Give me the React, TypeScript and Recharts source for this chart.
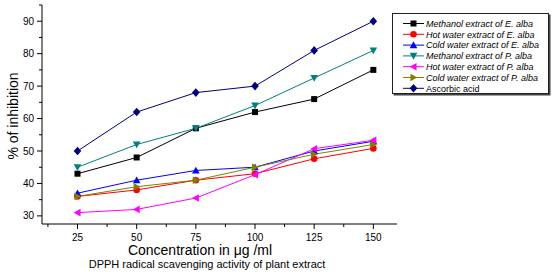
import { LineChart, Line, XAxis, YAxis, Legend } from 'recharts';

const concentrations = [25, 50, 75, 100, 125, 150];
const methanolEAlba = [43, 48, 57, 62, 66, 75];
const hotWaterEAlba = [36, 38, 41, 43, 47.6, 50.8];
const coldWaterEAlba = [37, 41, 44, 45, 50, 53];
const methanolPAlba = [45, 52, 57, 64, 72.5, 81];
const hotWaterPAlba = [31, 32, 35.5, 42.7, 50.7, 53.3];
const coldWaterPAlba = [36, 39, 41, 45, 49, 52];
const ascorbicAcid = [50, 62, 68, 70, 81, 90];

const xTicks = [12.5, 25, 37.5, 50, 62.5, 75, 87.5, 100, 112.5, 125, 137.5, 150];
const yTicks = [30, 35, 40, 45, 50, 55, 60, 65, 70, 75, 80, 85, 90, 95];

const FONT = "Arial, 'Liberation Sans', sans-serif";

type Shape = 'square' | 'circle' | 'up' | 'down' | 'left' | 'right' | 'diamond';

const series: { key: string; name: string; color: string; shape: Shape; italic: boolean; values: number[] }[] = [
  { key: 'methE', name: 'Methanol extract of E. alba', color: '#000000', shape: 'square', italic: true, values: methanolEAlba },
  { key: 'hotE', name: 'Hot water extract of E. alba', color: '#ff0000', shape: 'circle', italic: true, values: hotWaterEAlba },
  { key: 'coldE', name: 'Cold water extract of E. alba', color: '#0000ff', shape: 'up', italic: true, values: coldWaterEAlba },
  { key: 'methP', name: 'Methanol extract of P. alba', color: '#008080', shape: 'down', italic: true, values: methanolPAlba },
  { key: 'hotP', name: 'Hot water extract of P. alba', color: '#ff00ff', shape: 'left', italic: true, values: hotWaterPAlba },
  { key: 'coldP', name: 'Cold water extract of P. alba', color: '#808000', shape: 'right', italic: true, values: coldWaterPAlba },
  { key: 'asc', name: 'Ascorbic acid', color: '#000080', shape: 'diamond', italic: false, values: ascorbicAcid },
];

const data = concentrations.map((c, i) => {
  const row: Record<string, number> = { conc: c };
  series.forEach((s) => (row[s.key] = s.values[i]));
  return row;
});

const Marker = ({ cx, cy, shape, color }: { cx: number; cy: number; shape: Shape; color: string }) => {
  if (cx == null || cy == null) return null;
  const r = 3.8;
  switch (shape) {
    case 'square':
      return <rect x={cx - 3} y={cy - 3} width={6} height={6} fill={color} />;
    case 'circle':
      return <circle cx={cx} cy={cy} r={3.3} fill={color} />;
    case 'up':
      return <polygon points={`${cx},${cy - r} ${cx + r},${cy + r * 0.8} ${cx - r},${cy + r * 0.8}`} fill={color} />;
    case 'down':
      return <polygon points={`${cx},${cy + r} ${cx + r},${cy - r * 0.8} ${cx - r},${cy - r * 0.8}`} fill={color} />;
    case 'left':
      return <polygon points={`${cx - r},${cy} ${cx + r * 0.8},${cy - r} ${cx + r * 0.8},${cy + r}`} fill={color} />;
    case 'right':
      return <polygon points={`${cx + r},${cy} ${cx - r * 0.8},${cy - r} ${cx - r * 0.8},${cy + r}`} fill={color} />;
    default:
      return <polygon points={`${cx},${cy - 4.3} ${cx + 3.8},${cy} ${cx},${cy + 4.3} ${cx - 3.8},${cy}`} fill={color} />;
  }
};

const XTick = (props: any) => {
  const { x, y, payload } = props;
  const major = payload.value % 25 === 0;
  return (
    <g>
      <line x1={x} x2={x} y1={y} y2={y + (major ? 5 : 3)} stroke="#000" strokeWidth={1} />
      {major && (
        <text x={x} y={y + 17} textAnchor="middle" fontSize={10} fontFamily={FONT} fill="#000">
          {payload.value}
        </text>
      )}
    </g>
  );
};

const YTick = (props: any) => {
  const { x, y, payload } = props;
  const major = payload.value % 10 === 0;
  return (
    <g>
      <line x1={x} x2={x - (major ? 5 : 3)} y1={y} y2={y} stroke="#000" strokeWidth={1} />
      {major && (
        <text x={x - 8} y={y + 3.6} textAnchor="end" fontSize={10} fontFamily={FONT} fill="#000">
          {payload.value}
        </text>
      )}
    </g>
  );
};

const LegendBox = () => (
  <div style={{ border: '1px solid #222', boxShadow: '1.5px 1.5px 0 #444', background: '#fff', width: 155, height: 79 }}>
    <svg width={155} height={79}>
      {series.map((s, i) => {
        const cy = 9.5 + i * 10.8;
        return (
          <g key={s.key}>
            <line x1={10} x2={31} y1={cy} y2={cy} stroke={s.color} strokeWidth={1} />
            <Marker cx={20.5} cy={cy} shape={s.shape} color={s.color} />
            <text x={33} y={cy + 3.3} fontSize={9} fontFamily={FONT} fontStyle={s.italic ? 'italic' : 'normal'} fill="#000">
              {s.name}
            </text>
          </g>
        );
      })}
    </svg>
  </div>
);

export default function App() {
  return (
    <div style={{ position: 'absolute', left: 0, top: 0, width: 556, height: 272, background: '#fff', fontFamily: FONT }}>
      <LineChart width={556} height={272} data={data} margin={{ top: 5, right: 159, left: 0, bottom: 18 }}>
        <XAxis
          dataKey="conc"
          type="number"
          domain={[10, 160]}
          ticks={xTicks}
          interval={0}
          height={30}
          tickSize={0}
          tickMargin={0}
          tickLine={false}
          tick={XTick}
          axisLine={{ stroke: '#000' }}
          allowDataOverflow
        />
        <YAxis
          type="number"
          domain={[27.5, 95]}
          ticks={yTicks}
          interval={0}
          width={42}
          tickSize={0}
          tickMargin={0}
          tickLine={false}
          tick={YTick}
          axisLine={{ stroke: '#000' }}
          allowDataOverflow
        />
        <Legend
          layout="vertical"
          align="center"
          verticalAlign="middle"
          content={() => <LegendBox />}
          wrapperStyle={{ left: 392, top: 13, width: 157, height: 81 }}
        />
        {series.map((s) => (
          <Line
            key={s.key}
            dataKey={s.key}
            name={s.name}
            stroke={s.color}
            strokeWidth={1}
            isAnimationActive={false}
            dot={(p: any) => <Marker key={`${s.key}-${p.index}`} cx={p.cx} cy={p.cy} shape={s.shape} color={s.color} />}
            activeDot={false}
          />
        ))}
      </LineChart>
      <div
        style={{
          position: 'absolute',
          left: 12.5,
          top: 116,
          transform: 'translate(-50%, -50%) rotate(-90deg)',
          fontSize: 14,
          lineHeight: 1,
          whiteSpace: 'nowrap',
        }}
      >
        % of inhibition
      </div>
      <div
        style={{
          position: 'absolute',
          left: 200,
          top: 249.5,
          transform: 'translate(-50%, -50%)',
          fontSize: 14,
          lineHeight: 1,
          whiteSpace: 'nowrap',
        }}
      >
        Concentration in μg /ml
      </div>
      <div
        style={{
          position: 'absolute',
          left: 207,
          top: 263.5,
          transform: 'translate(-50%, -50%)',
          fontSize: 11,
          lineHeight: 1,
          whiteSpace: 'nowrap',
        }}
      >
        DPPH radical scavenging activity of plant extract
      </div>
    </div>
  );
}
